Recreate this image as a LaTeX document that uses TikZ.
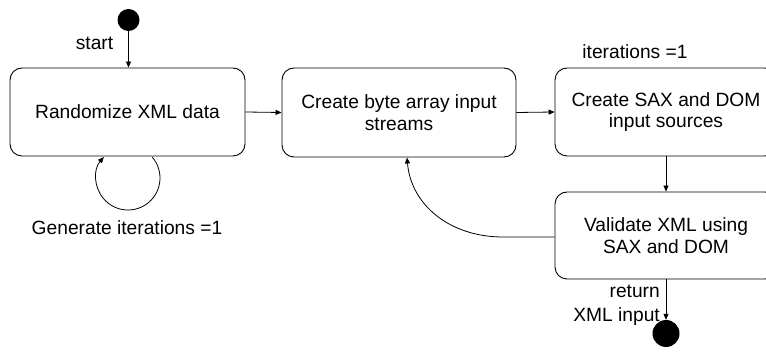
\documentclass[tikz,border=0pt]{standalone}
\usepackage{fontspec}
\setmainfont{Liberation Sans}
\usetikzlibrary{arrows.meta,calc}
\begin{document}
\begin{tikzpicture}[x=1pt,y=1pt,
  every node/.style={font=\fontsize{19.2}{21.5}\selectfont, inner sep=0pt},
  statebox/.style={draw=black, line width=0.9pt, rounded corners=12pt, fill=white, align=center},
  dot/.style={circle, fill=black, draw=none},
  conn/.style={draw=black, line width=0.8pt, -{Triangle[length=6pt,width=5pt]}},
  lbl/.style={align=center}
]
\useasboundingbox (0,0) rectangle (766,-352);
\clip (0,0) rectangle (766,-352);

% loop first so box covers its top
\coordinate (loopc) at (128,-178);
\draw[conn] ($(loopc)+(41:32)$) arc[start angle=41, end angle=-221, radius=32] coordinate (loopend);

\node[statebox, minimum width=235pt, minimum height=88pt] (b1) at (127.5,-112) {Randomize XML data};
\node[statebox, minimum width=234pt, minimum height=89pt] (b2) at (399,-112.5) {Create byte array input\\streams};
\node[statebox, minimum width=222pt, minimum height=88pt] (b3) at (666,-112) {Create SAX and DOM\\input sources};
\node[statebox, minimum width=222pt, minimum height=87pt] (b4) at (666,-235.5) {Validate XML using\\SAX and DOM};

\node[dot, minimum size=22pt] (start) at (128.5,-20) {};
\node[dot, minimum size=27pt] (end) at (666,-333.5) {};

\draw[conn] (start.south) -- (start.south |- b1.north);
\draw[conn] (b1.east) -- (b2.west);
\draw[conn] (b2.east) -- (b3.west);
\draw[conn] (b3.south) -- (b4.north);
\draw[conn] (b4.south) -- (end.north);
\coordinate (bk) at (503,-237);
\draw[conn] (b4.west |- bk) -- (bk) .. controls (450,-237) and (411,-205) .. (407,-157.5);

\node[lbl] (lstart) at (94.5,-43) {start};
\node[lbl] (lgen) at (127,-228) {Generate iterations =1};
\node[lbl] (liter) at (635,-52) {iterations =1};
\node[align=right, anchor=east, font=\fontsize{19.2}{24}\selectfont] (lret) at (660,-305) {return\\XML input};
\end{tikzpicture}
\end{document}
